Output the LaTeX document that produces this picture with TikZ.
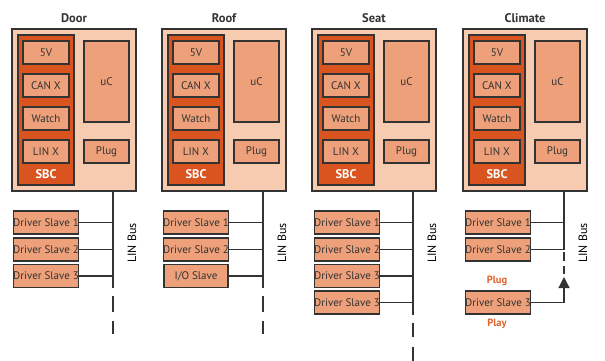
\documentclass[tikz,border=0pt]{standalone}
\usepackage{fontspec}
\setmainfont{PT Sans}
\usetikzlibrary{arrows.meta}
\definecolor{outerfill}{HTML}{F6CBB0}
\definecolor{sbcfill}{HTML}{D9541E}
\definecolor{boxfill}{HTML}{EDA079}
\definecolor{edge}{HTML}{333333}
\definecolor{accent}{HTML}{E0622A}
\tikzset{
  outerbox/.style={draw=edge,line width=1.4pt,fill=outerfill},
  sbcbox/.style={draw=edge,line width=1.2pt,fill=sbcfill},
  unit/.style={draw=edge,line width=1.3pt,fill=boxfill,inner sep=0pt,text=edge,font=\fontsize{11}{13}\selectfont},
  slavebox/.style={unit,minimum width=64pt,minimum height=23pt},
  title/.style={font=\bfseries\fontsize{12.5}{14}\selectfont,text=edge},
  busline/.style={draw=edge,line width=1.4pt},
  tap/.style={draw=edge,line width=1.2pt},
  buslabel/.style={rotate=90,font=\fontsize{12}{14}\selectfont,text=black},
  accentlabel/.style={font=\bfseries\fontsize{10.5}{12}\selectfont,text=accent},
}
\begin{document}
\begin{tikzpicture}[x=1pt,y=-1pt]
\useasboundingbox (0,0) rectangle (605,361);
\foreach \o/\t/\n in {0/Door/d,150/Roof/r,300/Seat/s,451/Climate/c}{
  \node[title] (\n-title) at (\o+74,18) {\t};
  \draw[outerbox] (\o+12,29) rectangle (\o+136,191);
  \coordinate (\n-outbot) at (\o+113,191);
  \draw[sbcbox] (\o+18,35) rectangle (\o+74,185);
  \node[unit,minimum width=46pt,minimum height=23pt] (\n-5v) at (\o+46,52.5) {5V};
  \node[unit,minimum width=46pt,minimum height=23pt] (\n-can) at (\o+46,85.5) {CAN X};
  \node[unit,minimum width=46pt,minimum height=23pt] (\n-watch) at (\o+46,118.5) {Watch};
  \node[unit,minimum width=46pt,minimum height=23pt] (\n-lin) at (\o+46,151.5) {LIN X};
  \node[font=\bfseries\fontsize{12.5}{14}\selectfont,text=white] (\n-sbc) at (\o+46,174) {SBC};
  \node[unit,minimum width=45pt,minimum height=81pt] (\n-uc) at (\o+106.5,81.5) {uC};
  \node[unit,minimum width=45pt,minimum height=23pt] (\n-plug) at (\o+106.5,151.5) {Plug};
  \node[buslabel] (\n-buslabel) at (\o+132,243) {LIN Bus};
}
% Door
\node[slavebox] (d-s1) at (46,222.5) {Driver Slave 1};
\node[slavebox] (d-s2) at (46,249.5) {Driver Slave 2};
\node[slavebox] (d-s3) at (46,276) {Driver Slave 3};
\coordinate (d-bend) at (113,288);
\draw[busline] (d-outbot) -- (d-bend);
\draw[busline,dash pattern=on 16pt off 9pt] (113,296) -- (113,334);
\foreach \k in {1,2,3}{\draw[tap] (d-s\k.east) -- (d-s\k.east -| d-bend);}
% Roof
\node[slavebox] (r-s1) at (196,222.5) {Driver Slave 1};
\node[slavebox] (r-s2) at (196,249.5) {Driver Slave 2};
\node[slavebox] (r-s3) at (196,276) {I/O Slave};
\coordinate (r-bend) at (263,288);
\draw[busline] (r-outbot) -- (r-bend);
\draw[busline,dash pattern=on 16pt off 9pt] (263,296) -- (263,334);
\foreach \k in {1,2,3}{\draw[tap] (r-s\k.east) -- (r-s\k.east -| r-bend);}
% Seat
\node[slavebox] (s-s1) at (347,222.5) {Driver Slave 1};
\node[slavebox] (s-s2) at (347,249.5) {Driver Slave 2};
\node[slavebox] (s-s3) at (347,276) {Driver Slave 3};
\node[slavebox] (s-s4) at (347,302.5) {Driver Slave 3};
\coordinate (s-bend) at (413,315);
\draw[busline] (s-outbot) -- (s-bend);
\draw[busline,dash pattern=on 14pt off 10pt] (413,323) -- (413,361);
\foreach \k in {1,2,3,4}{\draw[tap] (s-s\k.east) -- (s-s\k.east -| s-bend);}
% Climate
\node[slavebox] (c-s1) at (498,222.5) {Driver Slave 1};
\node[slavebox] (c-s2) at (498,249.5) {Driver Slave 2};
\node[slavebox] (c-s3) at (498,302.5) {Driver Slave 3};
\coordinate (c-bend) at (564,250);
\coordinate (c-tip) at (564,277);
\draw[busline] (c-outbot) -- (c-bend);
\draw[busline,dash pattern=on 9pt off 5pt] (564,252) -- (564,274);
\foreach \k in {1,2}{\draw[tap] (c-s\k.east) -- (c-s\k.east -| c-bend);}
\draw[tap,-{Triangle[length=11pt,width=11pt]}] (c-s3.east) -| (c-tip);
\node[accentlabel] (c-plugtxt) at (497,281) {Plug};
\node[accentlabel] (c-playtxt) at (497,324) {Play};
\end{tikzpicture}
\end{document}
